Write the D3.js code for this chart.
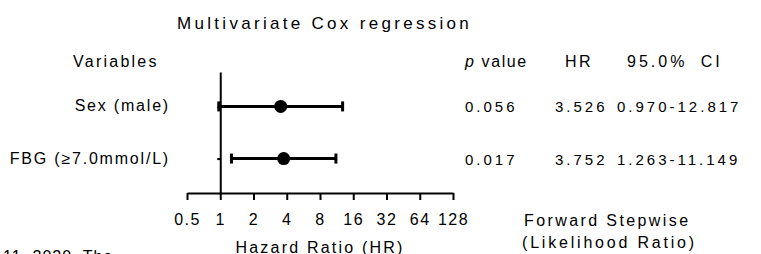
<!DOCTYPE html>
<html>
<head>
<meta charset="utf-8">
<script src="https://cdn.jsdelivr.net/npm/d3@7"></script>
<style>
  body { margin: 0; background: #fff; }
  text { font-family: "Liberation Sans", Arial, sans-serif; fill: #000; }
</style>
</head>
<body>
<div id="graph_here"></div>
<script>
// forest plot data
const variables = ["Sex (male)", "FBG (\u22657.0mmol/L)"];
const hrValues = [3.526, 3.752];
const ciLower = [0.970, 1.263];
const ciUpper = [12.817, 11.149];
const pValues = ["0.056", "0.017"];
const hrLabels = ["3.526", "3.752"];
const ciLabels = ["0.970-12.817", "1.263-11.149"];
const xTicks = [0.5, 1, 2, 4, 8, 16, 32, 64, 128];
const headers = ["p value", "HR", "95.0% CI"];

function drawforest(){
    const width = 761;
    const height = 254;

    var svg = d3.select('#graph_here')
        .append('svg')
        .attr("width", width)
        .attr("height", height);

    // scales
    const xScale = d3.scaleLog().base(2).domain([0.5, 128]).range([187, 453]);
    const yScale = d3.scalePoint().domain(variables).range([72, 193]).padding(0.66);

    // x axis
    const xAxis = d3.axisBottom(xScale)
        .tickValues(xTicks)
        .tickFormat(d => String(d))
        .tickSize(7)
        .tickSizeOuter(0)
        .tickPadding(14);

    const gx = svg.append("g")
        .attr("transform", "translate(0,193)")
        .call(xAxis);
    gx.select(".domain").attr("stroke-width", 2);
    gx.selectAll(".tick line").attr("stroke-width", 2);
    gx.selectAll(".tick text")
        .attr("fill", "#000")
        .style("font-size", "16px")
        .style("letter-spacing", "1.5px");

    // y axis at HR = 1
    const yAxis = d3.axisLeft(yScale)
        .tickSize(3)
        .tickSizeOuter(0)
        .tickFormat("");
    const gy = svg.append("g")
        .attr("transform", "translate(" + xScale(1) + ",0)")
        .call(yAxis);
    gy.select(".domain").attr("stroke-width", 2);
    gy.selectAll(".tick line").attr("stroke-width", 2);

    // error bars
    const rows = svg.selectAll(".row")
        .data(variables)
        .enter()
        .append("g")
        .attr("class", "row");

    rows.append("line")
        .attr("x1", (d, i) => xScale(ciLower[i]))
        .attr("x2", (d, i) => xScale(ciUpper[i]))
        .attr("y1", d => yScale(d))
        .attr("y2", d => yScale(d))
        .attr("stroke", "#000")
        .attr("stroke-width", 3);

    [ciLower, ciUpper].forEach(arr => {
        rows.append("line")
            .attr("x1", (d, i) => xScale(arr[i]))
            .attr("x2", (d, i) => xScale(arr[i]))
            .attr("y1", d => yScale(d) - 5)
            .attr("y2", d => yScale(d) + 5)
            .attr("stroke", "#000")
            .attr("stroke-width", 3);
    });

    rows.append("circle")
        .attr("cx", (d, i) => xScale(hrValues[i]))
        .attr("cy", d => yScale(d))
        .attr("r", 6.5)
        .attr("fill", "#000");

    // row labels
    rows.append("text")
        .attr("x", 170)
        .attr("y", d => yScale(d) + 5)
        .attr("text-anchor", "end")
        .style("font-size", "16px")
        .style("letter-spacing", "1.8px")
        .text(d => d);

    // table columns on the right
    const colX = [465, 555, 617];
    const colVals = [pValues, hrLabels, ciLabels];
    colVals.forEach((vals, c) => {
        rows.append("text")
            .attr("x", colX[c])
            .attr("y", d => yScale(d) + 6)
            .style("font-size", "15px")
            .style("letter-spacing", "3px")
            .text((d, i) => vals[i]);
    });

    // headers
    svg.append("text")
        .attr("x", 73).attr("y", 67)
        .style("font-size", "16px")
        .style("letter-spacing", "2.25px")
        .text("Variables");

    const hdr = svg.append("g");
    hdr.append("text")
        .attr("x", 465).attr("y", 67)
        .style("font-size", "16px")
        .style("letter-spacing", "1.6px")
        .html('<tspan font-style="italic">p</tspan> value');
    hdr.append("text")
        .attr("x", 565).attr("y", 67)
        .style("font-size", "16px")
        .style("letter-spacing", "2.5px")
        .text(headers[1]);
    hdr.append("text")
        .attr("x", 627).attr("y", 67)
        .style("font-size", "16px")
        .style("letter-spacing", "3px")
        .style("word-spacing", "6px")
        .text(headers[2]);

    // title
    svg.append("text")
        .attr("x", 177).attr("y", 29)
        .style("font-size", "17px")
        .style("letter-spacing", "3.3px")
        .text("Multivariate Cox regression");

    // method note
    svg.append("text")
        .attr("x", 524).attr("y", 226)
        .style("font-size", "16px")
        .style("letter-spacing", "2.4px")
        .text("Forward Stepwise");
    svg.append("text")
        .attr("x", 522).attr("y", 248)
        .style("font-size", "16px")
        .style("letter-spacing", "2.8px")
        .text("(Likelihood Ratio)");

    // clipped caption line from the page below
    svg.append("text")
        .attr("x", 3).attr("y", 262)
        .style("font-size", "16px")
        .style("letter-spacing", "1px")
        .text("11, 2020. The");

    // x axis title
    svg.append("text")
        .attr("x", (xScale(0.5) + xScale(128)) / 2).attr("y", 253)
        .attr("text-anchor", "middle")
        .style("font-size", "16px")
        .style("letter-spacing", "2.2px")
        .text("Hazard Ratio (HR)");
}

window.addEventListener('load', drawforest);
</script>
</body>
</html>
